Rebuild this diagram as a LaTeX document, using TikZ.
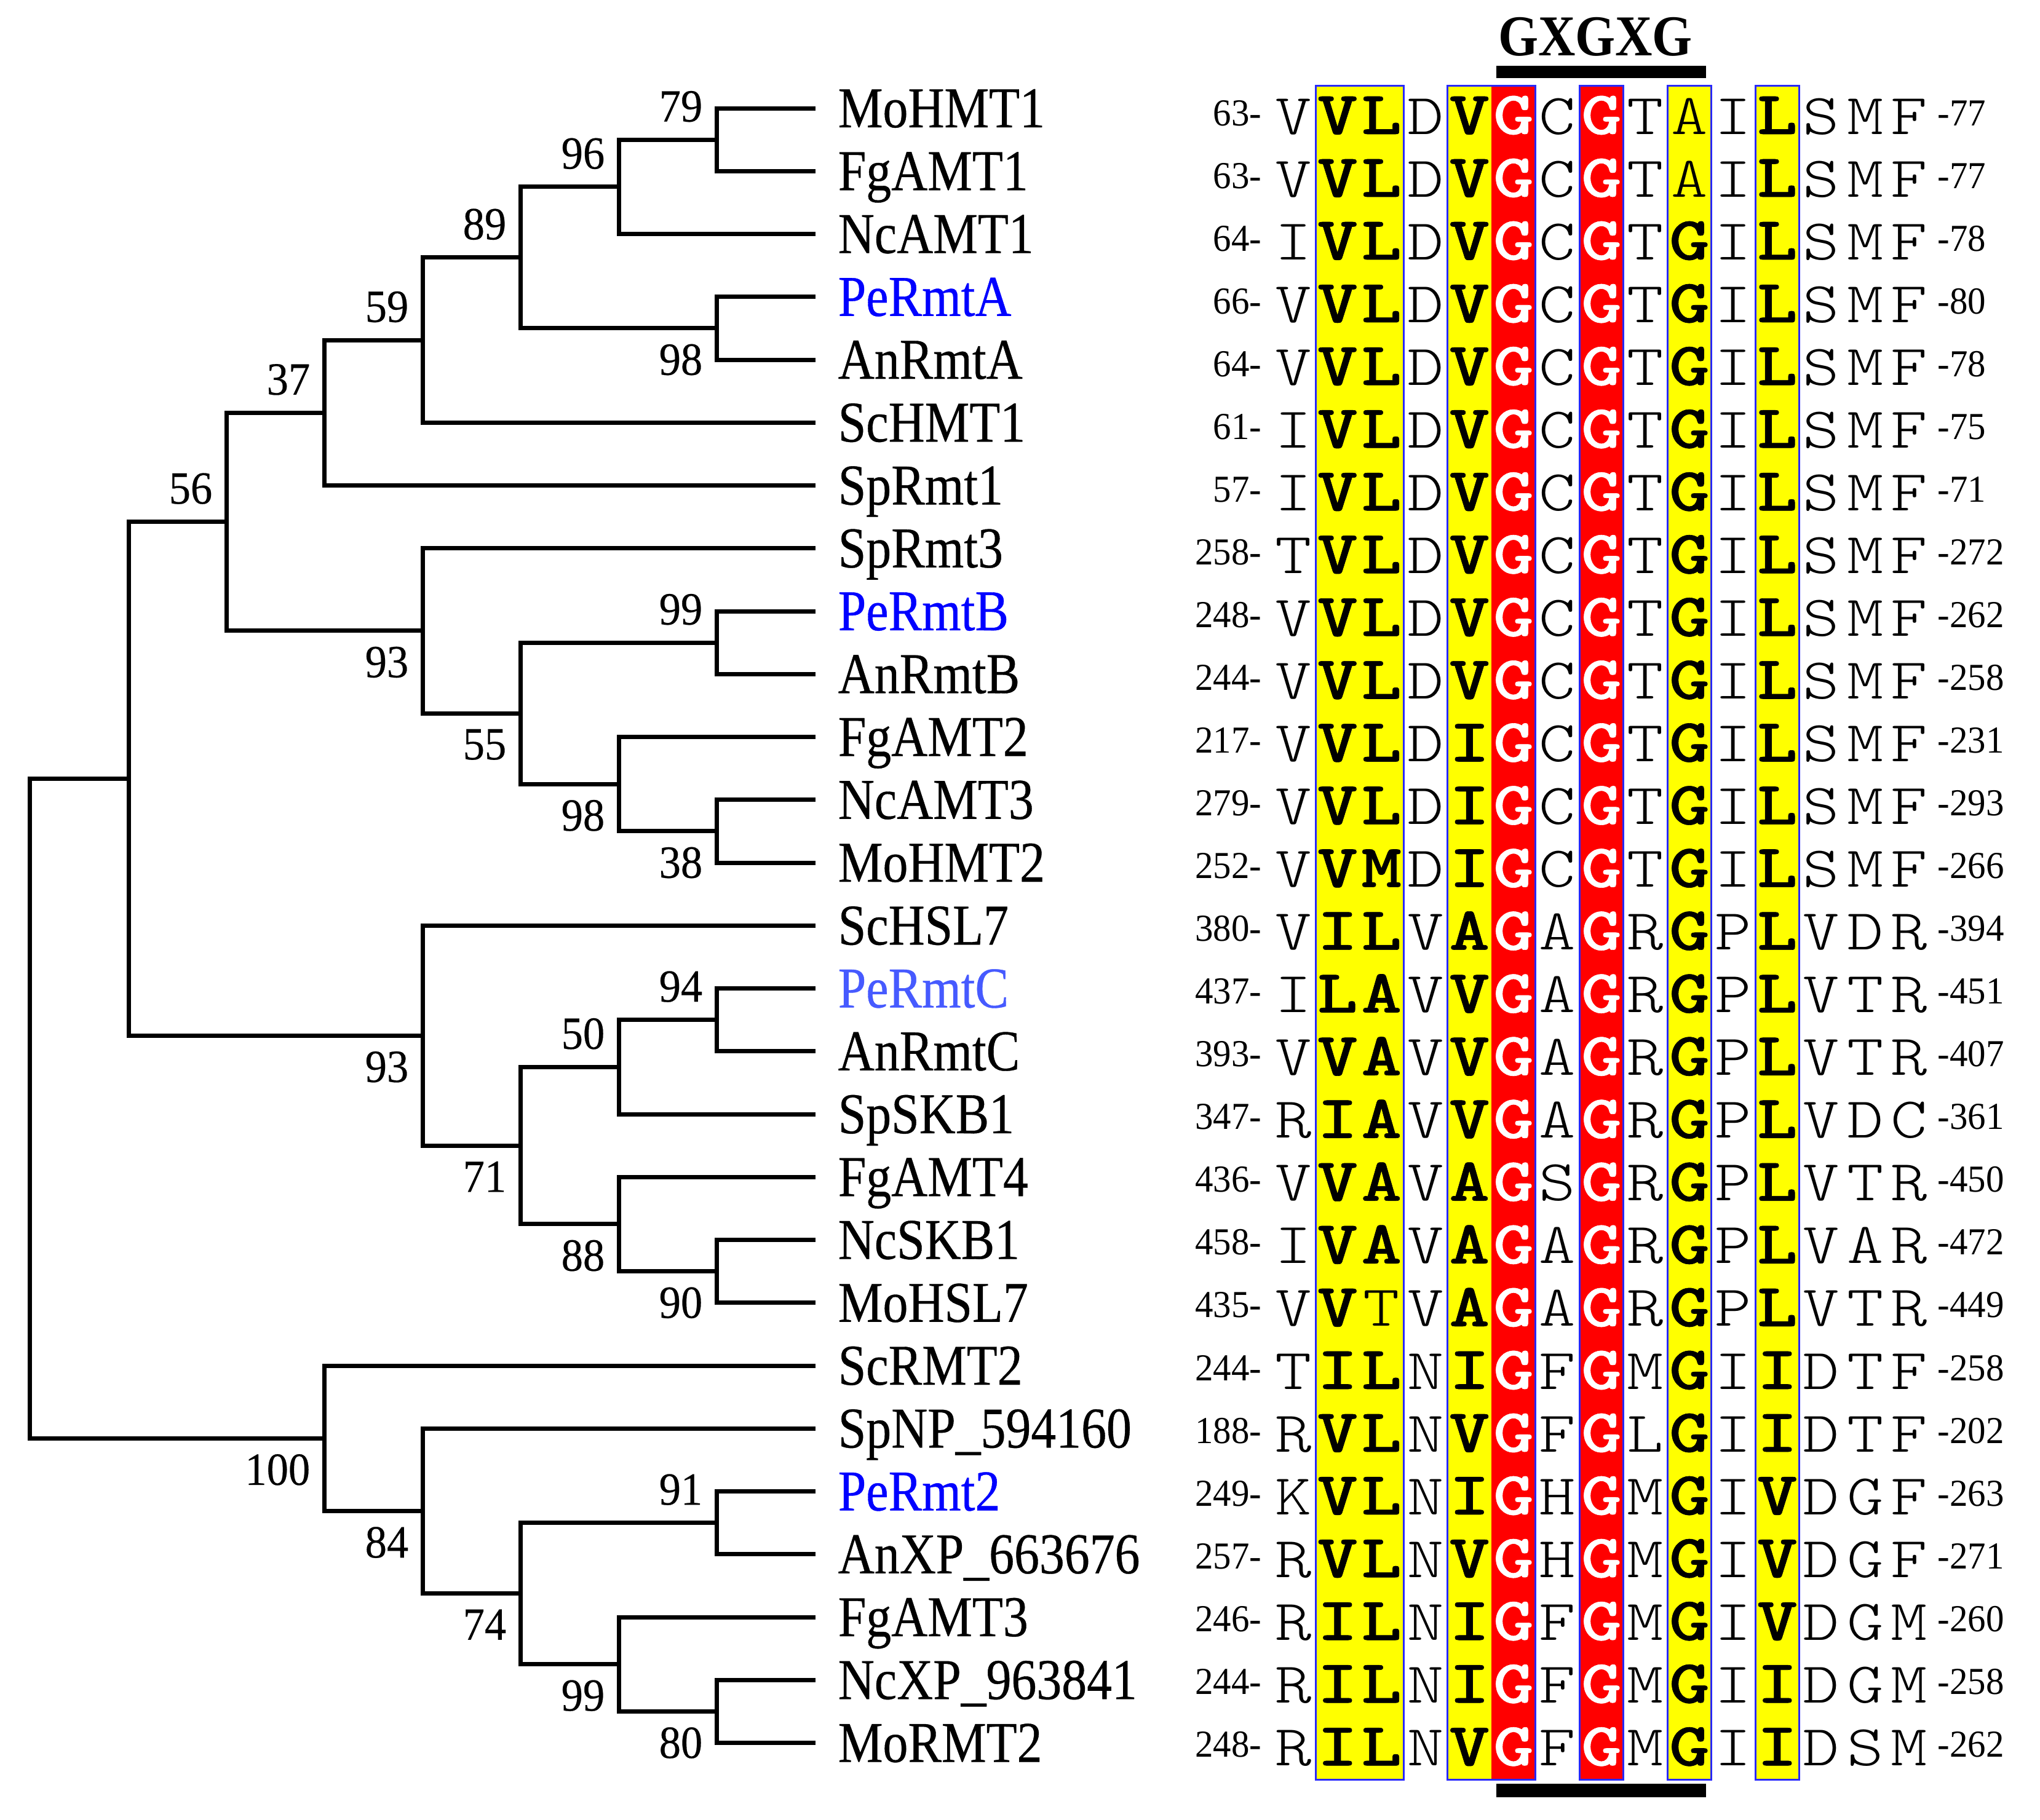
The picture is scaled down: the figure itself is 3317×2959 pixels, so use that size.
\documentclass[tikz,border=0pt]{standalone}
\usepackage{fontspec}
\usetikzlibrary{calc}
\newfontfamily\lblfam{Liberation Serif}[FakeStretch=0.87,FakeBold=0.4]
\newfontfamily\bootfam{Liberation Serif}[FakeStretch=0.94,FakeBold=0.3]
\newfontfamily\numfam{Liberation Serif}[FakeStretch=0.95]
\newfontfamily\gxfam{Liberation Serif}[FakeStretch=0.89]
\newfontfamily\aafam{lmmonolt10-regular.otf}[FakeStretch=1.2]
\newfontfamily\aabfam{lmmonolt10-bold.otf}[FakeStretch=1.25,FakeBold=0.6]
\definecolor{peblue}{RGB}{0,0,255}
\definecolor{pelight}{RGB}{70,90,255}
\definecolor{boxblue}{RGB}{40,40,255}
\definecolor{cellyellow}{RGB}{255,255,0}
\definecolor{cellred}{RGB}{255,0,0}
\newcommand\aanf{\aafam\fontsize{23.5}{26}\selectfont}
\newcommand\aabf{\aabfam\fontsize{25}{28}\selectfont}
\newcommand\aawf{\aabfam\fontsize{25}{28}\selectfont\color{white}}
\newif\ifforcen
\newcount\aacol
\newcommand\putaa[1]{%
  \ifforcen\let\aaf\aanf\else
  \ifcase\aacol \let\aaf\aanf\or\let\aaf\aabf\or\let\aaf\aabf\or\let\aaf\aanf\or
  \let\aaf\aabf\or\let\aaf\aawf\or\let\aaf\aanf\or\let\aaf\aawf\or\let\aaf\aanf\or
  \let\aaf\aabf\or\let\aaf\aanf\or\let\aaf\aabf\else\let\aaf\aanf\fi\fi
  \global\forcenfalse
  \node[aa, font=\aaf] (s\therow-\the\aacol) at ({2103.25+71.5*\the\aacol},{\rowc+28}) {#1};%
  \global\advance\aacol by 1\relax}
\def\parseseq#1{\ifx#1\relax\else\ifx#1*\global\forcentrue\else\putaa{#1}\fi\expandafter\parseseq\fi}
\newcommand\seqrow[4]{%
  \def\therow{#1}%
  \pgfmathsetmacro\rowc{190+(#1-1)*102.05}%
  \node[numl] (nl#1) at (2052,{\rowc+14}) {#2-};
  \node[numr] (nr#1) at (3150,{\rowc+14}) {-#3};
  \global\aacol=0
  \parseseq#4\relax}
\begin{document}
\begin{tikzpicture}[x=0.25pt,y=-0.25pt,
  tree/.style={line width=1.75pt, line join=miter},
  leaf/.style={anchor=base west, inner sep=0, font=\lblfam\fontsize{23.5}{28}\selectfont},
  boot/.style={inner sep=0, font=\bootfam\fontsize{18.75}{22}\selectfont},
  bootup/.style={boot, anchor=south east},
  bootdn/.style={boot, anchor=north east},
  numl/.style={anchor=base east, inner sep=0, font=\numfam\fontsize{15.5}{18}\selectfont},
  numr/.style={anchor=base west, inner sep=0, font=\numfam\fontsize{15.5}{18}\selectfont},
  aa/.style={anchor=base, inner sep=0},
  gx/.style={anchor=base, inner sep=0, font=\gxfam\bfseries\fontsize{23.5}{28}\selectfont},
  cellbox/.style={draw=boxblue, line width=0.75pt}]
\useasboundingbox (0,0) rectangle (3317,2959);

% ---------- leaves ----------
\foreach \nm/\cl [count=\i] in {MoHMT1/black,FgAMT1/black,NcAMT1/black,PeRmtA/peblue,AnRmtA/black,ScHMT1/black,SpRmt1/black,SpRmt3/black,PeRmtB/peblue,AnRmtB/black,FgAMT2/black,NcAMT3/black,MoHMT2/black,ScHSL7/black,PeRmtC/pelight,AnRmtC/black,SpSKB1/black,FgAMT4/black,NcSKB1/black,MoHSL7/black,ScRMT2/black,SpNP\_594160/black,PeRmt2/peblue,AnXP\_663676/black,FgAMT3/black,NcXP\_963841/black,MoRMT2/black}{
  \coordinate (e\i) at (1326,{176+(\i-1)*102.25});
  \node[leaf, text=\cl] (leaf\i) at (1362,{176+(\i-1)*102.25+31}) {\nm};
}

% ---------- internal nodes ----------
\coordinate (nF) at (1165,227.125);
\coordinate (nE) at (1006,303.81);
\coordinate (nG) at (1165,533.875);
\coordinate (nD) at (846,418.84);
\coordinate (nC) at (687,553.05);
\coordinate (nB) at (527,671.27);
\coordinate (nJ) at (1165,1045.125);
\coordinate (nL) at (1165,1351.875);
\coordinate (nK) at (1006,1275.19);
\coordinate (nI) at (846,1160.16);
\coordinate (nH) at (687,1025.95);
\coordinate (nA) at (368,848.61);
\coordinate (nQ) at (1165,1658.625);
\coordinate (nO) at (1006,1735.31);
\coordinate (nR) at (1165,2067.625);
\coordinate (nP) at (1006,1990.94);
\coordinate (nN) at (846,1863.13);
\coordinate (nM) at (687,1684.19);
\coordinate (nZ) at (209,1266.4);
\coordinate (nV) at (1165,2476.625);
\coordinate (nX) at (1165,2783.375);
\coordinate (nW) at (1006,2706.69);
\coordinate (nU) at (846,2591.66);
\coordinate (nT) at (687,2457.45);
\coordinate (nS) at (527,2339.23);
\coordinate (nRoot) at (48,1802.8);

% ---------- branches ----------
\draw[tree] (e1) -| (nF) |- (e2);
\draw[tree] (nF) -| (nE) |- (e3);
\draw[tree] (e4) -| (nG) |- (e5);
\draw[tree] (nE) -| (nD) |- (nG);
\draw[tree] (nD) -| (nC) |- (e6);
\draw[tree] (nC) -| (nB) |- (e7);
\draw[tree] (e9) -| (nJ) |- (e10);
\draw[tree] (e12) -| (nL) |- (e13);
\draw[tree] (e11) -| (nK) |- (nL);
\draw[tree] (nJ) -| (nI) |- (nK);
\draw[tree] (e8) -| (nH) |- (nI);
\draw[tree] (nB) -| (nA) |- (nH);
\draw[tree] (e15) -| (nQ) |- (e16);
\draw[tree] (nQ) -| (nO) |- (e17);
\draw[tree] (e19) -| (nR) |- (e20);
\draw[tree] (e18) -| (nP) |- (nR);
\draw[tree] (nO) -| (nN) |- (nP);
\draw[tree] (e14) -| (nM) |- (nN);
\draw[tree] (nA) -| (nZ) |- (nM);
\draw[tree] (e23) -| (nV) |- (e24);
\draw[tree] (e26) -| (nX) |- (e27);
\draw[tree] (e25) -| (nW) |- (nX);
\draw[tree] (nV) -| (nU) |- (nW);
\draw[tree] (e22) -| (nT) |- (nU);
\draw[tree] (e21) -| (nS) |- (nT);
\draw[tree] (nZ) -| (nRoot) |- (nS);

% ---------- bootstrap values ----------
\foreach \n/\v in {nF/79,nE/96,nD/89,nC/59,nB/37,nA/56,nJ/99,nQ/94,nO/50,nV/91}
  \node[bootup] (b\n) at ($(\n)+(-22,-28)$) {\v};
\foreach \n/\v in {nG/98,nH/93,nI/55,nK/98,nL/38,nM/93,nN/71,nP/88,nR/90,nS/100,nT/84,nU/74,nW/99,nX/80}
  \node[bootdn] (b\n) at ($(\n)+(-22,25)$) {\v};

% ---------- alignment cells ----------
\fill[cellyellow] (2139,139) rectangle (2282,2894.3);
\fill[cellyellow] (2353.5,139) rectangle (2425,2894.3);
\fill[cellred] (2425,139) rectangle (2496.5,2894.3);
\fill[cellred] (2568,139) rectangle (2639.5,2894.3);
\fill[cellyellow] (2711,139) rectangle (2782.5,2894.3);
\fill[cellyellow] (2854,139) rectangle (2925.5,2894.3);
\draw[cellbox] (2139,139) rectangle (2282,2894.3);
\draw[cellbox] (2353.5,139) rectangle (2496.5,2894.3);
\draw[cellbox] (2568,139) rectangle (2639.5,2894.3);
\draw[cellbox] (2711,139) rectangle (2782.5,2894.3);
\draw[cellbox] (2854,139) rectangle (2925.5,2894.3);

% ---------- motif ----------
\node[gx] (motif) at (2594,90) {GXGXG};
\fill (2433,107) rectangle (2774,127);
\fill (2433,2901) rectangle (2774,2923);

% ---------- sequences ----------
\seqrow{1}{63}{77}{VVLDVGCGT*AILSMF}
\seqrow{2}{63}{77}{VVLDVGCGT*AILSMF}
\seqrow{3}{64}{78}{IVLDVGCGTGILSMF}
\seqrow{4}{66}{80}{VVLDVGCGTGILSMF}
\seqrow{5}{64}{78}{VVLDVGCGTGILSMF}
\seqrow{6}{61}{75}{IVLDVGCGTGILSMF}
\seqrow{7}{57}{71}{IVLDVGCGTGILSMF}
\seqrow{8}{258}{272}{TVLDVGCGTGILSMF}
\seqrow{9}{248}{262}{VVLDVGCGTGILSMF}
\seqrow{10}{244}{258}{VVLDVGCGTGILSMF}
\seqrow{11}{217}{231}{VVLDIGCGTGILSMF}
\seqrow{12}{279}{293}{VVLDIGCGTGILSMF}
\seqrow{13}{252}{266}{VVMDIGCGTGILSMF}
\seqrow{14}{380}{394}{VILVAGAGRGPLVDR}
\seqrow{15}{437}{451}{ILAVVGAGRGPLVTR}
\seqrow{16}{393}{407}{VVAVVGAGRGPLVTR}
\seqrow{17}{347}{361}{RIAVVGAGRGPLVDC}
\seqrow{18}{436}{450}{VVAVAGSGRGPLVTR}
\seqrow{19}{458}{472}{IVAVAGAGRGPLVAR}
\seqrow{20}{435}{449}{VV*TVAGAGRGPLVTR}
\seqrow{21}{244}{258}{TILNIGFGMGIIDTF}
\seqrow{22}{188}{202}{RVLNVGFGLGIIDTF}
\seqrow{23}{249}{263}{KVLNIGHGMGIVDGF}
\seqrow{24}{257}{271}{RVLNVGHGMGIVDGF}
\seqrow{25}{246}{260}{RILNIGFGMGIVDGM}
\seqrow{26}{244}{258}{RILNIGFGMGIIDGM}
\seqrow{27}{248}{262}{RILNVGFGMGIIDSM}
\end{tikzpicture}
\end{document}
